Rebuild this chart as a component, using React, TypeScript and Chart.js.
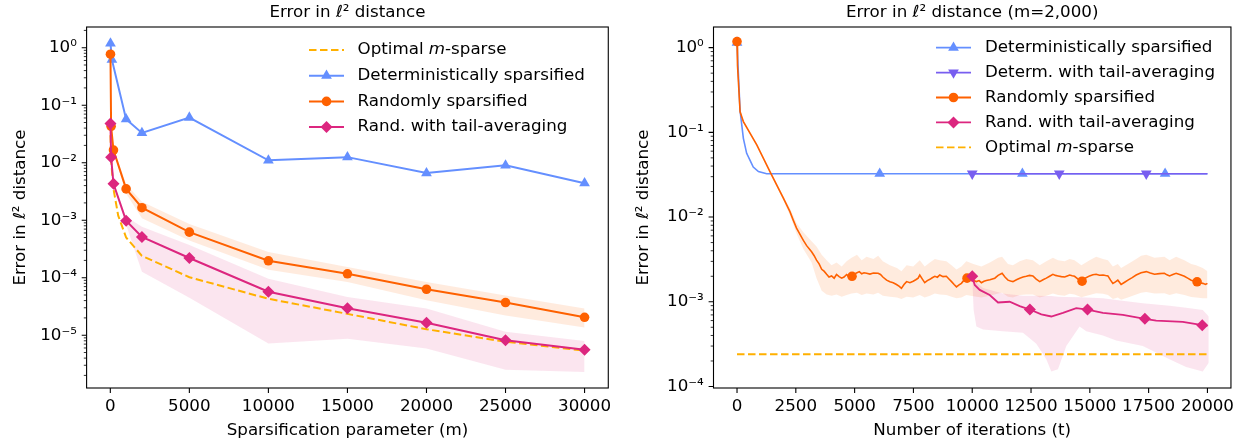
import React, { useEffect, useRef } from 'react';
import { Chart, registerables } from 'chart.js';
import { drawPoint } from 'chart.js/helpers';

Chart.register(...registerables);

const FONT_FAMILY = '"DejaVu Sans", "Noto Sans", sans-serif';
const FS = 16.7;

const BLUE = '#648FFF';
const PURPLE = '#785EF0';
const PINK = '#DC267F';
const ORANGE = '#FE6100';
const GOLD = '#FFB000';
const ORANGE_BAND = 'rgba(254, 97, 0, 0.13)';
const PINK_BAND = 'rgba(220, 38, 127, 0.12)';

// ---------------- Left panel data (error vs sparsification parameter m) ----------------
const leftXTicks = [0, 5000, 10000, 15000, 20000, 25000, 30000];
const leftXLabels = ['0', '5000', '10000', '15000', '20000', '25000', '30000'];
const leftYMajor = [1e-5, 1e-4, 1e-3, 1e-2, 1e-1, 1];
const leftYLabels = ['10⁻⁵', '10⁻⁴', '10⁻³', '10⁻²', '10⁻¹', '10⁰'];

const leftOptM = [10, 50, 200, 500, 1000, 2000, 5000, 10000, 15000, 20000, 25000, 30000];
const leftOptErr = [0.03, 0.011, 0.0035, 0.0012, 0.0005, 0.00024, 0.000102, 0.000043, 0.0000235, 0.0000127, 0.0000077, 0.0000054];

const leftDetM = [10, 100, 1000, 2000, 5000, 10000, 15000, 20000, 25000, 30000];
const leftDetErr = [1.19, 0.62, 0.057, 0.033, 0.061, 0.011, 0.0125, 0.0066, 0.009, 0.0044];

const leftRandM = [10, 50, 200, 1000, 2000, 5000, 10000, 15000, 20000, 25000, 30000];
const leftRandErr = [0.77, 0.043, 0.0166, 0.0035, 0.00165, 0.00062, 0.000197, 0.000117, 0.000063, 0.000037, 0.0000205];
const leftRandHi = [0.8, 0.046, 0.018, 0.0042, 0.0021, 0.00086, 0.00028, 0.000153, 0.000084, 0.000049, 0.000029];
const leftRandLo = [0.74, 0.04, 0.015, 0.0029, 0.00108, 0.000445, 0.000138, 0.000084, 0.0000405, 0.000022, 0.0000136];

const leftTailM = [10, 50, 200, 1000, 2000, 5000, 10000, 15000, 20000, 25000, 30000];
const leftTailErr = [0.048, 0.0125, 0.0043, 0.00098, 0.00051, 0.00022, 0.000057, 0.0000295, 0.0000165, 0.0000082, 0.0000056];
const leftTailHi = [0.05, 0.013, 0.0046, 0.00115, 0.00077, 0.00037, 0.000096, 0.000046, 0.000029, 0.0000115, 0.0000079];
const leftTailLo = [0.046, 0.012, 0.004, 0.00083, 0.000127, 0.000045, 0.0000072, 0.0000087, 0.0000059, 0.0000025, 0.0000023];

// ---------------- Right panel data (error vs iterations t, m = 2,000) ----------------
const rightXTicks = [0, 2500, 5000, 7500, 10000, 12500, 15000, 17500, 20000];
const rightXLabels = ['0', '2500', '5000', '7500', '10000', '12500', '15000', '17500', '20000'];
const rightYMajor = [1e-4, 1e-3, 1e-2, 1e-1, 1];
const rightYLabels = ['10⁻⁴', '10⁻³', '10⁻²', '10⁻¹', '10⁰'];

const rightDetT = [0, 60, 130, 270, 410, 550, 690, 910, 1260, 20000];
const rightDetErr = [1.15, 0.48, 0.18, 0.085, 0.0566, 0.047, 0.039, 0.0344, 0.0325, 0.0325];
const rightDetMarkT = [0, 6067, 12133, 18200];
const rightDetMarkErr = [1.15, 0.0325, 0.0325, 0.0325];

const rightDetTailT = [10000, 20000];
const rightDetTailErr = [0.0325, 0.0325];
const rightDetTailMarkT = [10000, 13700, 17400];
const rightDetTailMarkErr = [0.0325, 0.0325, 0.0325];

const rightRandT = [
  0, 20, 130, 270, 840, 1400, 1970, 2250, 2390, 2530, 2820, 2960, 3170, 3280, 3380, 3490, 3600, 3700, 3810, 3910,
  4020, 4130, 4230, 4340, 4450, 4550, 4660, 4760, 4870, 4980, 5100, 5200, 5300, 5400, 5510, 5650, 5800, 6000, 6100, 6200,
  6360, 6500, 6640, 6780, 6900, 6990, 7100, 7210, 7350, 7490, 7600, 7700, 7770, 7880, 7980, 8090, 8200, 8300, 8410, 8520,
  8620, 8760, 8900, 9010, 9120, 9230, 9330, 9440, 9540, 9650, 9750, 9900, 10050, 10180, 10290, 10390, 10500, 10600, 10750, 10960,
  11100, 11270, 11400, 11520, 11630, 11730, 11880, 12020, 12160, 12300, 12440, 12580, 12720, 12870, 13010, 13150, 13290, 13430, 13540, 13650,
  13790, 13930, 14040, 14140, 14250, 14350, 14500, 14640, 14800, 14990, 15130, 15270, 15410, 15560, 15670, 15770, 15880, 15980, 16090, 16190,
  16260, 16330, 16480, 16620, 16800, 16970, 17180, 17400, 17570, 17750, 17960, 18170, 18280, 18390, 18530, 18670, 18850, 19020, 19160, 19310,
  19420, 19520, 19660, 19800, 19920, 20000,
];
const rightRandErr = [
  1.18, 0.62, 0.175, 0.134, 0.071, 0.0344, 0.0167, 0.0116, 0.0092, 0.0074, 0.0053, 0.0046, 0.0039, 0.0035, 0.0031, 0.0028, 0.00242, 0.0023, 0.00211, 0.00196,
  0.00202, 0.0019, 0.0021, 0.00198, 0.0019, 0.00196, 0.0021, 0.00198, 0.002, 0.00212, 0.0022, 0.00227, 0.00214, 0.0022, 0.00217, 0.00212, 0.00218, 0.00217, 0.0021, 0.00196,
  0.0018, 0.00172, 0.00168, 0.0016, 0.00152, 0.00144, 0.0016, 0.00173, 0.00168, 0.00175, 0.00182, 0.0019, 0.00207, 0.00185, 0.00168, 0.00178, 0.00184, 0.00192, 0.002, 0.00195,
  0.00207, 0.00198, 0.002, 0.00186, 0.00173, 0.0016, 0.0015, 0.00158, 0.00165, 0.0018, 0.0019, 0.00185, 0.00178, 0.00173, 0.00178, 0.00168, 0.00175, 0.00178, 0.00182, 0.0019,
  0.00205, 0.00217, 0.00195, 0.0018, 0.00176, 0.00173, 0.00182, 0.0019, 0.00196, 0.002, 0.00205, 0.00202, 0.00185, 0.00173, 0.00182, 0.0019, 0.002, 0.00211, 0.00205, 0.00202,
  0.00198, 0.00196, 0.00202, 0.00207, 0.00203, 0.002, 0.00185, 0.00175, 0.0019, 0.00202, 0.00208, 0.00211, 0.00206, 0.00207, 0.00204, 0.00202, 0.0018, 0.00165, 0.00172, 0.0018,
  0.0017, 0.0016, 0.0017, 0.0018, 0.00193, 0.00207, 0.0022, 0.00227, 0.00218, 0.00211, 0.00215, 0.00217, 0.00208, 0.00202, 0.0021, 0.00217, 0.00208, 0.002, 0.0019, 0.0018,
  0.00176, 0.00173, 0.00168, 0.00165, 0.0016, 0.00165,
];
const rightRandMarkT = [0, 4890, 9780, 14670, 19560];
const rightRandMarkErr = [1.18, 0.002, 0.0019, 0.00175, 0.00172];

const rightRandBandT = [
  0, 20, 130, 270, 840, 1400, 1970, 2250, 2530, 2820, 3170, 3380, 3600, 3810, 4020, 4230, 4450, 4660, 4870, 5100,
  5300, 5510, 5800, 6000, 6200, 6500, 6800, 6990, 7210, 7490, 7770, 7980, 8200, 8410, 8620, 8900, 9120, 9330, 9540, 9750,
  10050, 10390, 10750, 11100, 11270, 11520, 11730, 12020, 12300, 12580, 12870, 13150, 13430, 13650, 13930, 14140, 14350, 14640, 14990, 15270,
  15560, 15770, 15980, 16190, 16330, 16620, 16970, 17180, 17400, 17750, 18170, 18390, 18670, 19020, 19310, 19520, 19800, 20000,
];
const rightRandHi = [
  1.2, 0.64, 0.18, 0.14, 0.074, 0.036, 0.0178, 0.0127, 0.0085, 0.0066, 0.0052, 0.0045, 0.0036, 0.0031, 0.0027, 0.0029, 0.0026, 0.003, 0.0033, 0.0036,
  0.0031, 0.0034, 0.0032, 0.0035, 0.003, 0.0027, 0.0025, 0.0023, 0.0027, 0.0026, 0.0031, 0.0026, 0.0029, 0.0032, 0.0031, 0.003, 0.0027, 0.0024, 0.0026, 0.003,
  0.0028, 0.0026, 0.0029, 0.0033, 0.0034, 0.0028, 0.0027, 0.003, 0.0032, 0.0031, 0.0027, 0.003, 0.0033, 0.0031, 0.003, 0.0032, 0.0031, 0.0027, 0.0031, 0.0034,
  0.0032, 0.0031, 0.0026, 0.0028, 0.0025, 0.0028, 0.0032, 0.0035, 0.0036, 0.0033, 0.0034, 0.0031, 0.0034, 0.0031, 0.0028, 0.0027, 0.0025, 0.0023,
];
const rightRandLo = [
  1.16, 0.6, 0.17, 0.128, 0.068, 0.033, 0.0157, 0.0105, 0.0064, 0.0042, 0.0029, 0.0019, 0.00135, 0.00122, 0.00118, 0.00122, 0.00115, 0.0012, 0.00125, 0.00128,
  0.0012, 0.00125, 0.00122, 0.00128, 0.00118, 0.00115, 0.00112, 0.00108, 0.00115, 0.00112, 0.0012, 0.00112, 0.00118, 0.00125, 0.00122, 0.0012, 0.00115, 0.0011, 0.00112, 0.0012,
  0.00116, 0.00112, 0.00118, 0.00125, 0.00128, 0.00115, 0.00112, 0.0012, 0.00122, 0.00122, 0.00112, 0.00118, 0.00125, 0.0012, 0.00118, 0.00124, 0.00122, 0.00113, 0.0012, 0.00126,
  0.00124, 0.0012, 0.00108, 0.00112, 0.00106, 0.00112, 0.00122, 0.00128, 0.0013, 0.00125, 0.00126, 0.0012, 0.00126, 0.0012, 0.00114, 0.00112, 0.0011, 0.0011,
];

const rightTailT = [10000, 10106, 10318, 10743, 11096, 11592, 12017, 12450, 12937, 13362, 13857, 14423, 14900, 15556, 16405, 17340, 17821, 18953, 19780, 20000];
const rightTailErr = [0.002, 0.00158, 0.00138, 0.0012, 0.00098, 0.001, 0.00089, 0.00081, 0.00071, 0.00067, 0.00074, 0.00084, 0.00081, 0.00074, 0.0007, 0.00063, 0.0006, 0.00058, 0.00053, 0.00052];
const rightTailMarkT = [10000, 12450, 14900, 17340, 19780];
const rightTailMarkErr = [0.002, 0.00081, 0.00081, 0.00063, 0.00053];
const rightTailBandT = [10000, 10060, 10177, 10460, 11300, 12158, 12725, 13150, 13362, 13645, 14000, 14565, 14848, 15556, 16122, 17254, 18386, 19094, 19802, 20056];
const rightTailHi = [0.002, 0.0019, 0.0017, 0.00145, 0.00125, 0.00118, 0.00118, 0.00117, 0.00117, 0.00115, 0.00114, 0.00113, 0.00112, 0.0011, 0.00105, 0.00096, 0.0009, 0.00085, 0.0008, 0.00067];
const rightTailLo = [0.0019, 0.0008, 0.00051, 0.00047, 0.00045, 0.00043, 0.00032, 0.00021, 0.00015, 0.00016, 0.0003, 0.00051, 0.00045, 0.0004, 0.00035, 0.0003, 0.00021, 0.00017, 0.00015, 0.00019];

const rightOptT = [0, 20000];
const rightOptErr = [0.00024, 0.00024];

// ---------------- helpers ----------------
type Seg = { text: string; italic?: boolean };
type LegendEntry = { label: Seg[]; color: string; dash?: number[]; pointStyle?: string; rotation?: number; radius?: number };
interface PanelCfg {
  title: string;
  titleY: number;
  xTicks: number[];
  yMajor: number[];
  legend: LegendEntry[];
  legendX0: number;
  legendX1: number;
  legendTextX: number;
  legendY0: number;
  legendRowH: number;
  lineW: number;
}

const pts = (xs: number[], ys: number[]) => xs.map((x, i) => ({ x, y: ys[i] }));

function lineDs(xs: number[], ys: number[], color: string, width: number, order: number, dash: number[] = []) {
  return { data: pts(xs, ys), borderColor: color, borderWidth: width, borderDash: dash, pointRadius: 0, tension: 0, fill: false, order };
}
function markDs(xs: number[], ys: number[], color: string, style: string, radius: number, order: number, rotation = 0) {
  return {
    data: pts(xs, ys), showLine: false, borderColor: color, backgroundColor: color,
    pointBackgroundColor: color, pointBorderColor: color, pointBorderWidth: 0,
    pointStyle: style, pointRotation: rotation, pointRadius: radius, order,
  };
}
function bandDs(xs: number[], hi: number[], lo: number[], color: string, order: number) {
  return [
    { data: pts(xs, hi), borderColor: 'rgba(0,0,0,0)', borderWidth: 1, pointRadius: 0, tension: 0, fill: '+1', backgroundColor: color, order },
    { data: pts(xs, lo), borderColor: 'rgba(0,0,0,0)', borderWidth: 1, pointRadius: 0, tension: 0, fill: false, order },
  ];
}

function decorPlugin(cfg: PanelCfg) {
  return {
    id: 'decor',
    afterDraw(chart: any) {
      const { ctx, chartArea: a, scales } = chart;
      const xs = scales.x;
      const ys = scales.y;
      ctx.save();
      ctx.setLineDash([]);
      ctx.strokeStyle = '#000';
      ctx.lineWidth = 1.1;
      ctx.strokeRect(a.left, a.top, a.right - a.left, a.bottom - a.top);
      ctx.beginPath();
      for (const v of cfg.xTicks) {
        const p = xs.getPixelForValue(v);
        ctx.moveTo(p, a.bottom);
        ctx.lineTo(p, a.bottom + 4.9);
      }
      for (const v of cfg.yMajor) {
        const p = ys.getPixelForValue(v);
        ctx.moveTo(a.left - 4.9, p);
        ctx.lineTo(a.left, p);
      }
      ctx.stroke();
      ctx.lineWidth = 0.8;
      ctx.beginPath();
      const e0 = Math.floor(Math.log10(ys.min));
      const e1 = Math.ceil(Math.log10(ys.max));
      for (let e = e0; e <= e1; e++) {
        for (let k = 2; k <= 9; k++) {
          const v = k * Math.pow(10, e);
          if (v < ys.min || v > ys.max) continue;
          const p = ys.getPixelForValue(v);
          ctx.moveTo(a.left - 2.8, p);
          ctx.lineTo(a.left, p);
        }
      }
      ctx.stroke();

      // title
      ctx.fillStyle = '#000';
      ctx.font = `${FS}px ${FONT_FAMILY}`;
      ctx.textAlign = 'center';
      ctx.textBaseline = 'middle';
      ctx.fillText(cfg.title, (a.left + a.right) / 2, cfg.titleY);

      // legend
      cfg.legend.forEach((item, i) => {
        const y = cfg.legendY0 + i * cfg.legendRowH;
        ctx.strokeStyle = item.color;
        ctx.lineWidth = cfg.lineW;
        ctx.setLineDash(item.dash || []);
        ctx.beginPath();
        ctx.moveTo(cfg.legendX0, y);
        ctx.lineTo(cfg.legendX1, y);
        ctx.stroke();
        ctx.setLineDash([]);
        if (item.pointStyle) {
          ctx.fillStyle = item.color;
          drawPoint(ctx, { pointStyle: item.pointStyle, rotation: item.rotation || 0, radius: item.radius || 5, borderWidth: 0 } as any,
            (cfg.legendX0 + cfg.legendX1) / 2, y);
        }
        ctx.fillStyle = '#000';
        ctx.textAlign = 'left';
        ctx.textBaseline = 'middle';
        let x = cfg.legendTextX;
        for (const seg of item.label) {
          ctx.font = `${seg.italic ? 'italic ' : ''}${FS}px ${FONT_FAMILY}`;
          ctx.fillText(seg.text, x, y);
          x += ctx.measureText(seg.text).width;
        }
      });
      ctx.restore();
    },
  };
}

function makeOptions(p: {
  xMin: number; xMax: number; yMin: number; yMax: number; xTicks: number[]; xLabels: string[]; yMajor: number[]; yLabels: string[];
  yWidth: number; padRight: number; xTitle: string; yTitlePad: number;
}) {
  const font = { family: FONT_FAMILY, size: FS };
  return {
    responsive: false,
    animation: false,
    devicePixelRatio: 1,
    events: [],
    layout: { padding: { top: 27, right: p.padRight, left: 0, bottom: 0 } },
    plugins: { legend: { display: false }, tooltip: { enabled: false }, title: { display: false } },
    scales: {
      x: {
        type: 'linear', min: p.xMin, max: p.xMax, bounds: 'data',
        afterBuildTicks: (s: any) => { s.ticks = p.xTicks.map((v) => ({ value: v })); },
        afterFit: (s: any) => { s.height = 54; },
        grid: { display: false, drawTicks: false },
        border: { display: false },
        ticks: { autoSkip: false, maxRotation: 0, padding: 8.5, color: '#000', font, callback: (_v: any, i: number) => p.xLabels[i] },
        title: { display: true, text: p.xTitle, color: '#000', font, padding: { top: 0, bottom: 1.6 } },
      },
      y: {
        type: 'logarithmic', min: p.yMin, max: p.yMax, bounds: 'data',
        afterBuildTicks: (s: any) => { s.ticks = p.yMajor.map((v) => ({ value: v })); },
        afterFit: (s: any) => { s.width = p.yWidth; },
        grid: { display: false, drawTicks: false },
        border: { display: false },
        ticks: { autoSkip: false, padding: 9.7, color: '#000', font, callback: (_v: any, i: number) => p.yLabels[i] },
        title: { display: true, text: 'Error in ℓ² distance', color: '#000', font, padding: { top: p.yTitlePad, bottom: 0 } },
      },
    },
  };
}

function leftConfig(): any {
  const legend: LegendEntry[] = [
    { label: [{ text: 'Optimal ' }, { text: 'm', italic: true }, { text: '-sparse' }], color: GOLD, dash: [7.5, 3.5] },
    { label: [{ text: 'Deterministically sparsified' }], color: BLUE, pointStyle: 'triangle', radius: 6.2 },
    { label: [{ text: 'Randomly sparsified' }], color: ORANGE, pointStyle: 'circle', radius: 4.8 },
    { label: [{ text: 'Rand. with tail-averaging' }], color: PINK, pointStyle: 'rectRot', radius: 6 },
  ];
  return {
    type: 'line',
    data: {
      datasets: [
        markDs(leftTailM, leftTailErr, PINK, 'rectRot', 6, 0),
        lineDs(leftTailM, leftTailErr, PINK, 2, 1),
        markDs(leftRandM, leftRandErr, ORANGE, 'circle', 4.8, 2),
        lineDs(leftRandM, leftRandErr, ORANGE, 2, 3),
        markDs(leftDetM, leftDetErr, BLUE, 'triangle', 6.2, 4),
        lineDs(leftDetM, leftDetErr, BLUE, 2, 5),
        lineDs(leftOptM, leftOptErr, GOLD, 2, 6, [7.5, 3.5]),
        ...bandDs(leftTailM, leftTailHi, leftTailLo, PINK_BAND, 7),
        ...bandDs(leftRandM, leftRandHi, leftRandLo, ORANGE_BAND, 8),
      ],
    },
    options: makeOptions({
      xMin: -1500, xMax: 31500, yMin: Math.pow(10, -5.918), yMax: Math.pow(10, 0.36),
      xTicks: leftXTicks, xLabels: leftXLabels, yMajor: leftYMajor, yLabels: leftYLabels,
      yWidth: 86.6, padRight: 8.6, xTitle: 'Sparsification parameter (m)', yTitlePad: 11,
    }),
    plugins: [decorPlugin({
      title: 'Error in ℓ² distance', titleY: 12.5, xTicks: leftXTicks, yMajor: leftYMajor, legend,
      legendX0: 309, legendX1: 344, legendTextX: 357.5, legendY0: 50, legendRowH: 25.7, lineW: 2,
    })],
  };
}

function rightConfig(): any {
  const legend: LegendEntry[] = [
    { label: [{ text: 'Deterministically sparsified' }], color: BLUE, pointStyle: 'triangle', radius: 6.2 },
    { label: [{ text: 'Determ. with tail-averaging' }], color: PURPLE, pointStyle: 'triangle', rotation: 180, radius: 6.2 },
    { label: [{ text: 'Randomly sparsified' }], color: ORANGE, pointStyle: 'circle', radius: 4.8 },
    { label: [{ text: 'Rand. with tail-averaging' }], color: PINK, pointStyle: 'rectRot', radius: 6 },
    { label: [{ text: 'Optimal ' }, { text: 'm', italic: true }, { text: '-sparse' }], color: GOLD, dash: [7.5, 3.5] },
  ];
  return {
    type: 'line',
    data: {
      datasets: [
        lineDs(rightOptT, rightOptErr, GOLD, 2, -1, [7.5, 3.5]),
        markDs(rightTailMarkT, rightTailMarkErr, PINK, 'rectRot', 6, 0),
        lineDs(rightTailT, rightTailErr, PINK, 1.8, 1),
        markDs(rightRandMarkT, rightRandMarkErr, ORANGE, 'circle', 4.8, 2),
        lineDs(rightRandT, rightRandErr, ORANGE, 1.6, 3),
        markDs(rightDetTailMarkT, rightDetTailMarkErr, PURPLE, 'triangle', 6.2, 4, 180),
        lineDs(rightDetTailT, rightDetTailErr, PURPLE, 1.6, 5),
        markDs(rightDetMarkT, rightDetMarkErr, BLUE, 'triangle', 6.2, 6),
        lineDs(rightDetT, rightDetErr, BLUE, 1.6, 7),
        ...bandDs(rightTailBandT, rightTailHi, rightTailLo, PINK_BAND, 8),
        ...bandDs(rightRandBandT, rightRandHi, rightRandLo, ORANGE_BAND, 9),
      ],
    },
    options: makeOptions({
      xMin: -1000, xMax: 21000, yMin: Math.pow(10, -4.018), yMax: Math.pow(10, 0.244),
      xTicks: rightXTicks, xLabels: rightXLabels, yMajor: rightYMajor, yLabels: rightYLabels,
      yWidth: 93.5, padRight: 11.5, xTitle: 'Number of iterations (t)', yTitlePad: 14,
    }),
    plugins: [decorPlugin({
      title: 'Error in ℓ² distance (m=2,000)', titleY: 12.5, xTicks: rightXTicks, yMajor: rightYMajor, legend,
      legendX0: 316, legendX1: 351, legendTextX: 365, legendY0: 47.7, legendRowH: 24.9, lineW: 1.8,
    })],
  };
}

function Panel({ make, width, height }: { make: () => any; width: number; height: number }) {
  const ref = useRef<HTMLCanvasElement>(null);
  useEffect(() => {
    if (!ref.current) return;
    const chart = new Chart(ref.current, make());
    return () => chart.destroy();
  }, [make]);
  return <canvas ref={ref} width={width} height={height} style={{ display: 'block', width, height }} />;
}

export default function App() {
  return (
    <div style={{ position: 'absolute', left: 0, top: 0, width: 1243, height: 442, display: 'flex', overflow: 'hidden', background: '#fff' }}>
      <Panel make={leftConfig} width={620} height={442} />
      <Panel make={rightConfig} width={623} height={442} />
    </div>
  );
}
